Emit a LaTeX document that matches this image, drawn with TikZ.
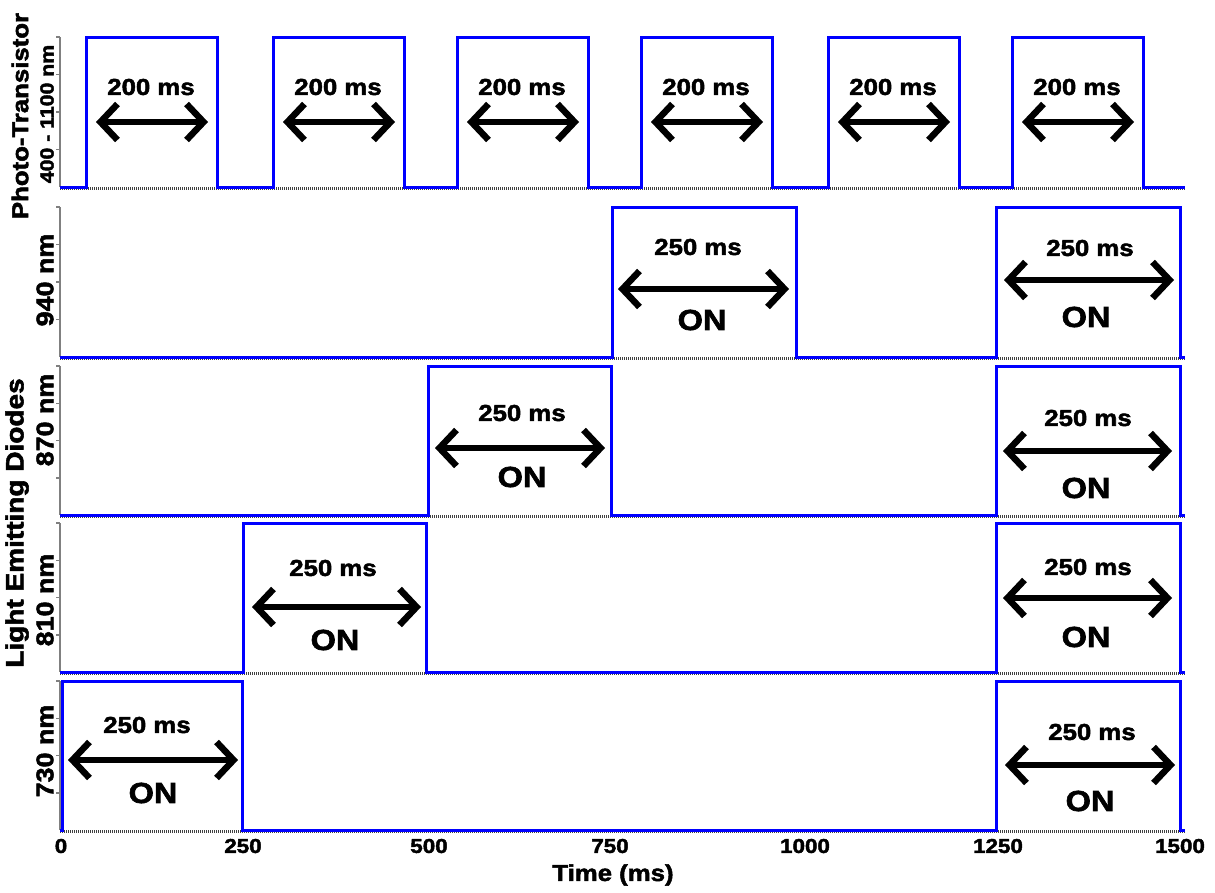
\documentclass[tikz,border=0pt]{standalone}
\usepackage{fontspec}
\setmainfont{Liberation Sans}[FakeStretch=1.12, BoldFeatures={FakeBold=2.2}]
\usetikzlibrary{arrows.meta}

\tikzset{
  trace/.style={draw=blue, line width=3pt, line join=miter},
  yaxis/.style={draw=gray, line width=1.5pt},
  zeroline/.style={draw=gray!50!black, line width=2.2pt, dash pattern=on 1.2pt off 0.8pt},
  span/.style={line width=6.5pt, {Straight Barb[length=17pt,width=36pt]}-{Straight Barb[length=17pt,width=36pt]}},
  dur/.style={inner sep=0pt, font=\bfseries\fontsize{23}{27}\selectfont},
  onlbl/.style={inner sep=0pt, font=\bfseries\fontsize{29}{33}\selectfont},
  ylbl/.style={rotate=90, inner sep=0pt, font=\bfseries\fontsize{24}{28}\selectfont},
  xtick/.style={inner sep=0pt, font=\bfseries\fontsize{20}{24}\selectfont},
}

\begin{document}
\begin{tikzpicture}[x=1pt,y=-1pt]
  \useasboundingbox (0,0) rectangle (1215,892);

  % axes of the five panels
  \foreach \t/\b in {37/187, 207/357, 366/515, 523/672, 681/830} {
    \draw[zeroline] (60,\b+1.5) -- (1185,\b+1.5);
    \draw[yaxis] (60,\t) -- (60,\b);
    \foreach \k in {0,...,3}
      \draw[yaxis] (56,{\t+\k*(\b-\t)/4}) -- (60,{\t+\k*(\b-\t)/4});
  }

  % photo-transistor
  \draw[trace] (60,187) \foreach \a in {86,273,457,641,828,1012} {
      -- (\a,187) -- (\a,37) -- ({\a+131},37) -- ({\a+131},187) } -- (1185,187);
  \foreach \a [count=\i] in {86,273,457,641,828,1012} {
    \node[dur] (pt\i) at ({\a+65},87) {200 ms};
    \draw[span] ({\a+10},122) coordinate (pt\i l) -- ({\a+122},122) coordinate (pt\i r);
  }

  % 940 nm
  \draw[trace] (60,357) -- (612,357) -- (612,207) -- (796,207) -- (796,357)
    -- (996,357) -- (996,207) -- (1180,207) -- (1180,357) -- (1185,357);
  \node[dur] (d940a) at (698,247) {250 ms};
  \draw[span] (618,289) coordinate (s940al) -- (789,289) coordinate (s940ar);
  \node[onlbl] (on940a) at (702,320) {ON};
  \node[dur] (d940b) at (1090,248) {250 ms};
  \draw[span] (1004,280) coordinate (s940bl) -- (1174,280) coordinate (s940br);
  \node[onlbl] (on940b) at (1086,317) {ON};

  % 870 nm
  \draw[trace] (60,515) -- (428,515) -- (428,366) -- (611,366) -- (611,515)
    -- (996,515) -- (996,366) -- (1180,366) -- (1180,515) -- (1185,515);
  \node[dur] (d870a) at (522,413) {250 ms};
  \draw[span] (435,448) coordinate (s870al) -- (605,448) coordinate (s870ar);
  \node[onlbl] (on870a) at (522,477) {ON};
  \node[dur] (d870b) at (1088,418) {250 ms};
  \draw[span] (1003,451) coordinate (s870bl) -- (1172,451) coordinate (s870br);
  \node[onlbl] (on870b) at (1086,488) {ON};

  % 810 nm
  \draw[trace] (60,672) -- (243,672) -- (243,523) -- (426,523) -- (426,672)
    -- (996,672) -- (996,523) -- (1180,523) -- (1180,672) -- (1185,672);
  \node[dur] (d810a) at (333,568) {250 ms};
  \draw[span] (252,607) coordinate (s810al) -- (421,607) coordinate (s810ar);
  \node[onlbl] (on810a) at (335,640) {ON};
  \node[dur] (d810b) at (1088,567) {250 ms};
  \draw[span] (1003,598) coordinate (s810bl) -- (1172,598) coordinate (s810br);
  \node[onlbl] (on810b) at (1086,637) {ON};

  % 730 nm
  \draw[trace] (60,830) -- (62,830) -- (62,681) -- (242,681) -- (242,830)
    -- (996,830) -- (996,681) -- (1180,681) -- (1180,830) -- (1185,830);
  \node[dur] (d730a) at (147,725) {250 ms};
  \draw[span] (68,760) coordinate (s730al) -- (238,760) coordinate (s730ar);
  \node[onlbl] (on730a) at (153,793) {ON};
  \node[dur] (d730b) at (1092,732) {250 ms};
  \draw[span] (1005,765) coordinate (s730bl) -- (1175,765) coordinate (s730br);
  \node[onlbl] (on730b) at (1090,801) {ON};

  % axis labels
  \node[ylbl, font=\bfseries\fontsize{23}{27}\selectfont] (ptlab) at (20,116) {Photo-Transistor};
  \node[ylbl, font=\bfseries\fontsize{19}{23}\selectfont] (ptrange) at (47,114) {400 - 1100 nm};
  \node[ylbl] (l940) at (45,280) {940 nm};
  \node[ylbl, font=\bfseries\fontsize{25}{29}\selectfont] (ledlab) at (17,523) {Light Emitting Diodes};
  \node[ylbl] (l870) at (45,420) {870 nm};
  \node[ylbl] (l810) at (45,600) {810 nm};
  \node[ylbl] (l730) at (45,751) {730 nm};

  \foreach \x/\v in {61/0, 243/250, 429/500, 610/750, 805/1000, 998/1250, 1180/1500}
    \node[xtick] (tick\v) at (\x,846) {\v};
  \node[font=\bfseries\fontsize{23}{27}\selectfont, inner sep=0pt] (timelab) at (613,875) {Time (ms)};
\end{tikzpicture}
\end{document}
